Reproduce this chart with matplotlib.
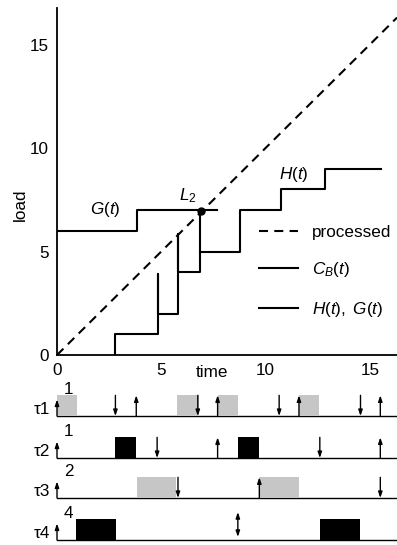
import matplotlib as mpl
mpl.use('Agg')
import matplotlib.pyplot as plt
from matplotlib.patches import Rectangle

plt.rcParams['font.family'] = ['Liberation Sans', 'DejaVu Sans']
plt.rcParams['mathtext.fontset'] = 'custom'
plt.rcParams['mathtext.rm'] = 'Liberation Sans'
plt.rcParams['mathtext.it'] = 'Liberation Sans:italic'
plt.rcParams['lines.scale_dashes'] = False

# ---- load diagram data ----
proc_t = [0, 16.3]
proc_load = [0, 16.3]

G_t = [0, 3.85, 3.85, 7.65]
G_load = [6, 6, 7, 7]

CB_t = [2.8, 2.8, 4.85, 4.85, 4.85, 5.8, 5.8, 5.8, 6.85, 6.85]
CB_load = [0, 1, 1, 3.9, 2, 2, 5.85, 4, 4, 6.95]

H_t = [6.85, 8.75, 8.75, 10.75, 10.75, 12.85, 12.85, 15.55]
H_load = [5, 5, 7, 7, 8, 8, 9, 9]

L2_point = (6.9, 6.95)

xticks = [0, 5, 10, 15]
yticks = [0, 5, 10, 15]

# ---- schedule data ----
task_names = ['\u03c41', '\u03c42', '\u03c43', '\u03c44']
task_costs = [1, 1, 2, 4]
task_colors = ['#c6c6c6', 'black', '#c6c6c6', 'black']
arrivals = [[0, 3.8, 7.7, 11.6, 15.5],
            [0, 7.7, 15.5],
            [0, 9.7],
            [0]]
deadlines = [[2.8, 6.75, 10.65, 14.55],
             [4.8, 12.6],
             [5.8, 15.5],
             []]
both = [[], [], [], [8.67]]
executions = [[(0, 0.95), (5.75, 6.8), (7.7, 8.7), (11.6, 12.55)],
              [(2.8, 3.8), (8.67, 9.67)],
              [(3.83, 5.7), (9.7, 11.6)],
              [(0.9, 2.85), (12.6, 14.55)]]

W, H = 397, 545
FS = 12.3
fig = plt.figure(figsize=(W / 100, H / 100), dpi=100)

ax = fig.add_axes([57 / W, 1 - 355 / H, 340 / W, 347 / H])
ax.set_xlim(0, 16.3)
ax.set_ylim(0, 347 / 20.7)
for s in ['top', 'right']:
    ax.spines[s].set_visible(False)
for s in ['left', 'bottom']:
    ax.spines[s].set_linewidth(1.3)
ax.set_xticks(xticks)
ax.set_yticks(yticks)
ax.tick_params(length=0, labelsize=FS, pad=6)

ax.plot(proc_t, proc_load, color='black', lw=1.5, dashes=(6.5, 4.5),
        label='processed')
ax.plot(CB_t, CB_load, color='black', lw=1.5, label=r'$C_B(t)$')
ax.plot(G_t, G_load, color='black', lw=1.5, label=r'$H(t),\ G(t)$')
ax.plot(H_t, H_load, color='black', lw=1.5)
ax.plot(*L2_point, 'o', color='black', ms=5)

ax.text(2.3, 7.05, r'$G(t)$', fontsize=FS, ha='center', va='center')
ax.text(6.28, 7.7, r'$L_2$', fontsize=FS, ha='center', va='center')
ax.text(11.35, 8.7, r'$H(t)$', fontsize=FS, ha='center', va='center')
ax.text(7.45, -0.85, 'time', fontsize=FS, ha='center', va='center')
ax.text(-1.75, 7.25, 'load', fontsize=FS, ha='center', va='center',
        rotation=90)

handles, labels = ax.get_legend_handles_labels()
ax.legend(handles, labels, loc='upper left', bbox_to_anchor=(0.594, 0.375),
          frameon=False, fontsize=FS, handlelength=2.3, handletextpad=0.8,
          labelspacing=1.2, borderpad=0, borderaxespad=0)

# ---- schedule ----
bx = fig.add_axes([57 / W, 0, 340 / W, 167 / H])
bx.set_xlim(0, 16.3)
bx.set_ylim(0, 167 / 20.7)
bx.axis('off')
baselines = [6.23, 4.2, 2.27, 0.24]

for i, name in enumerate(task_names):
    b = baselines[i]
    bx.plot([0, 16.3], [b, b], color='black', lw=1.0, zorder=1)
    for (s, e) in executions[i]:
        bx.add_patch(Rectangle((s, b), e - s, 1.0, facecolor=task_colors[i],
                               edgecolor='none', zorder=2))
    for t in arrivals[i]:
        h = 0.8 if t == 0 else 1.0
        bx.annotate('', xy=(t, b + h), xytext=(t, b),
                    arrowprops=dict(arrowstyle='-|>,head_length=0.35,head_width=0.12',
                                    color='black', lw=1.0, shrinkA=0, shrinkB=0),
                    zorder=3)
    for t in deadlines[i]:
        bx.annotate('', xy=(t, b), xytext=(t, b + 1.0),
                    arrowprops=dict(arrowstyle='-|>,head_length=0.35,head_width=0.12',
                                    color='black', lw=1.0, shrinkA=0, shrinkB=0),
                    zorder=3)
    for t in both[i]:
        bx.annotate('', xy=(t, b + 0.15), xytext=(t, b + 1.35),
                    arrowprops=dict(arrowstyle='<|-|>,head_length=0.35,head_width=0.12',
                                    color='black', lw=1.0, shrinkA=0, shrinkB=0),
                    zorder=3)
    bx.text(-0.35, b + 0.3, name, fontsize=FS, ha='right', va='center')
    bx.text(0.55, b + 1.3, str(task_costs[i]), fontsize=FS, ha='center',
            va='center')

fig.savefig('out.png', dpi=100)
